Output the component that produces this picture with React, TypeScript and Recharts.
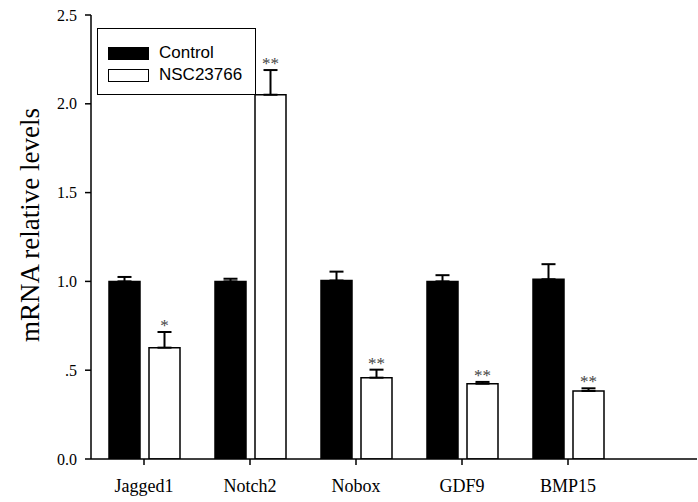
import React from 'react';
import { Bar, BarChart, ErrorBar, LabelList, XAxis, YAxis } from 'recharts';

const genes = ['Jagged1', 'Notch2', 'Nobox', 'GDF9', 'BMP15'];
const controlValues = [1.0, 1.0, 1.005, 1.0, 1.012];
const controlErrors = [0.025, 0.015, 0.05, 0.035, 0.085];
const nscValues = [0.627, 2.051, 0.458, 0.424, 0.383];
const nscErrors = [0.088, 0.139, 0.045, 0.01, 0.015];
const significance = ['*', '**', '**', '**', '**'];
const yTicks = [0, 0.5, 1.0, 1.5, 2.0, 2.5];
const yTickLabels = ['0.0', '.5', '1.0', '1.5', '2.0', '2.5'];

const data = genes.map((gene, i) => ({
  gene,
  control: controlValues[i],
  controlErr: [0, controlErrors[i]],
  nsc: nscValues[i],
  nscErr: [0, nscErrors[i]],
  nscCap: nscErrors[i],
  sig: significance[i],
}));

const legendItems = [
  { name: 'Control', fill: '#000' },
  { name: 'NSC23766', fill: '#fff' },
];

const serif = '"Liberation Serif", "Times New Roman", serif';

const LegendBox = () => (
  <div
    style={{
      position: 'absolute',
      left: 97,
      top: 28,
      border: '1.5px solid #000',
      width: 159,
      height: 67,
      boxSizing: 'border-box',
      padding: '13px 0 0 10px',
      fontFamily: '"Liberation Sans", Arial, sans-serif',
      fontSize: 17,
      background: '#fff',
    }}
  >
    {legendItems.map((item) => (
      <div key={item.name} style={{ display: 'flex', alignItems: 'center', height: 22 }}>
        <span
          style={{
            display: 'inline-block',
            width: 41,
            height: 13,
            background: item.fill,
            border: '1.5px solid #000',
            boxSizing: 'border-box',
            marginRight: 10,
          }}
        />
        <span>{item.name}</span>
      </div>
    ))}
  </div>
);

const YLabel = ({ viewBox }: any) => {
  const cx = viewBox.x + 30;
  const cy = viewBox.y + viewBox.height / 2 - 12;
  return (
    <text
      x={cx}
      y={cy}
      transform={`rotate(-90, ${cx}, ${cy})`}
      textAnchor="middle"
      dominantBaseline="central"
      fontFamily={serif}
      fontSize={27}
      fill="#000"
    >
      mRNA relative levels
    </text>
  );
};

export default function App() {
  return (
    <div style={{ position: 'absolute', left: 0, top: 0, width: 698, height: 502, background: '#fff' }}>
      <BarChart
        width={698}
        height={502}
        data={data}
        margin={{ top: 15, right: 1, bottom: 0, left: 0 }}
        barGap={9}
      >
        <XAxis
          dataKey="gene"
          padding={{ left: 0, right: 76 }}
          axisLine={{ stroke: '#000', strokeWidth: 1.5 }}
          tickLine={{ stroke: '#000', strokeWidth: 1.5 }}
          tickSize={6}
          tickMargin={14}
          height={43}
          tick={{ fill: '#000', fontSize: 18, fontFamily: serif }}
          interval={0}
        />
        <YAxis
          domain={[0, 2.5]}
          ticks={yTicks}
          tickFormatter={(v: number) => yTickLabels[yTicks.indexOf(v)]}
          width={91}
          axisLine={{ stroke: '#000', strokeWidth: 1.5 }}
          tickLine={{ stroke: '#000', strokeWidth: 1.5 }}
          tickSize={6}
          tickMargin={8}
          tick={{ fill: '#000', fontSize: 16, fontFamily: serif }}
          allowDataOverflow
          label={<YLabel />}
        />
        <Bar dataKey="control" stackId="c" barSize={31} fill="#000" stroke="#000" strokeWidth={1.5} isAnimationActive={false}>
          <ErrorBar dataKey="controlErr" width={7} stroke="#000" strokeWidth={2} direction="y" />
        </Bar>
        <Bar dataKey="nsc" stackId="n" barSize={31} fill="#fff" stroke="#000" strokeWidth={1.5} isAnimationActive={false}>
          <ErrorBar dataKey="nscErr" width={7} stroke="#000" strokeWidth={2} direction="y" />
        </Bar>
        <Bar dataKey="nscCap" stackId="n" barSize={31} fill="none" stroke="none" legendType="none" isAnimationActive={false}>
          <LabelList dataKey="sig" position="top" offset={1} fill="#444" fontSize={17} fontFamily={serif} />
        </Bar>
      </BarChart>
      <LegendBox />
    </div>
  );
}
